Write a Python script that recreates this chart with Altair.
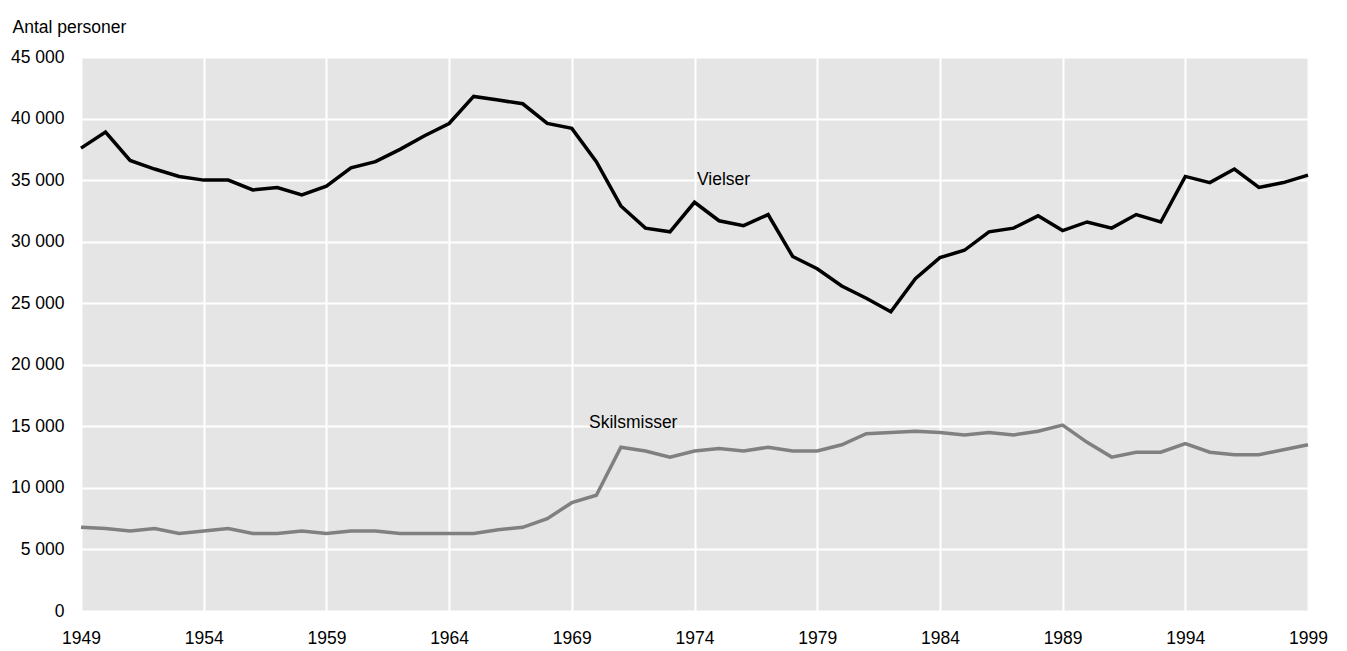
import altair as alt
import pandas as pd

years = list(range(1949, 2000))
vielser = [37600, 38900, 36600, 35900, 35300, 35000, 35000, 34200, 34400, 33800,
           34500, 36000, 36500, 37500, 38600, 39600, 41800, 41500, 41200, 39600,
           39200, 36500, 32900, 31100, 30800, 33200, 31700, 31300, 32200, 28800,
           27800, 26400, 25400, 24300, 27000, 28700, 29300, 30800, 31100, 32100,
           30900, 31600, 31100, 32200, 31600, 35300, 34800, 35900, 34400, 34800,
           35400]
skilsmisser = [6800, 6700, 6500, 6700, 6300, 6500, 6700, 6300, 6300, 6500,
               6300, 6500, 6500, 6300, 6300, 6300, 6300, 6600, 6800, 7500,
               8800, 9400, 13300, 13000, 12500, 13000, 13200, 13000, 13300, 13000,
               13000, 13500, 14400, 14500, 14600, 14500, 14300, 14500, 14300, 14600,
               15100, 13700, 12500, 12900, 12900, 13600, 12900, 12700, 12700, 13100,
               13500]
series_names = ["Vielser", "Skilsmisser"]
series_colors = ["#000000", "#808080"]

label_text = ["Vielser", "Skilsmisser"]
label_year = [1974.1, 1969.7]
label_value = [34600, 14850]

x_ticks = list(range(1949, 2000, 5))
y_ticks = list(range(0, 45001, 5000))

FONT = "Liberation Sans"
FS = 17.5

rows = []
for name, vals in zip(series_names, [vielser, skilsmisser]):
    for y, v in zip(years, vals):
        rows.append({"year": y, "value": v, "series": name})
df = pd.DataFrame(rows)
labels_df = pd.DataFrame({"text": label_text, "year": label_year, "value": label_value})

x_enc = alt.X("year:Q",
              scale=alt.Scale(domain=[1949, 1999], nice=False, zero=False),
              axis=alt.Axis(values=x_ticks, format="d", title=None, grid=True,
                            gridColor="white", gridWidth=2, domain=False, ticks=False,
                            labelFlush=False, labelOverlap=False, labelBound=False,
                            labelPadding=18, labelFontSize=FS, labelFont=FONT,
                            labelColor="black"))
y_enc = alt.Y("value:Q",
              scale=alt.Scale(domain=[0, 45000], nice=False),
              axis=alt.Axis(values=y_ticks, title="Antal personer", titleAngle=0,
                            titleAlign="left", titleBaseline="alphabetic",
                            titleX=-69, titleY=-25, titleFont=FONT, titleFontSize=FS,
                            titleFontWeight="normal", titleColor="black",
                            labelExpr="replace(format(datum.value, ','), ',', ' ')",
                            grid=True, gridColor="white", gridWidth=2, domain=False,
                            ticks=False, labelFlush=False, labelOverlap=False,
                            labelPadding=17, labelFontSize=FS,
                            labelFont=FONT, labelColor="black"))

lines = alt.Chart(df).mark_line(strokeWidth=3.5, strokeJoin="miter").encode(
    x=x_enc, y=y_enc,
    color=alt.Color("series:N", scale=alt.Scale(domain=series_names, range=series_colors),
                    legend=None),
)

texts = alt.Chart(labels_df).mark_text(align="left", baseline="alphabetic",
                                       font=FONT, fontSize=FS, color="black").encode(
    x="year:Q", y="value:Q", text="text:N")

chart = (lines + texts).properties(
    width=1227, height=554,
    background="white",
    autosize=alt.AutoSizeParams(type="none"),
    padding={"left": 73, "top": 49, "right": 31, "bottom": 40},
).configure_view(fill="#e5e5e5", strokeWidth=0)

chart.save("out.html", embed_options={"renderer": "svg", "actions": False})
